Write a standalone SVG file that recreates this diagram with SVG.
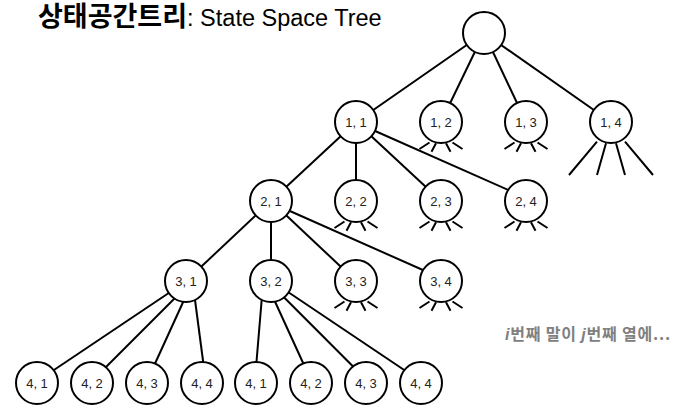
<svg xmlns="http://www.w3.org/2000/svg" xmlns:xlink="http://www.w3.org/1999/xlink" width="685" height="409" viewBox="0 0 685 409">
<style>
.edge{stroke:#000;stroke-width:2;fill:none;stroke-linecap:butt}
.node circle{fill:#fff;stroke:#000;stroke-width:2}
.lbl{font-family:"Liberation Sans",Arial,sans-serif;font-size:13px;fill:#222;text-anchor:middle}
.title{font-family:"Liberation Sans",Arial,sans-serif;font-size:23.5px;fill:#000}
.note{font-family:"Noto Sans CJK KR",sans-serif;font-size:16px;font-weight:bold;fill:#808080;letter-spacing:0.8px}
</style>
<defs>
<g id="stub">
<path class="edge" d="M-11.5,20.5L-21.5,27M-5,21.3L-9.5,29.7M5,21.3L9.5,29.7M11.5,20.5L21.5,27"/>
</g>
</defs>
<rect width="685" height="409" fill="#fff"/>
<text class="title" x="38" y="26"><tspan font-family="'Noto Sans CJK KR',sans-serif" font-weight="bold" font-size="27">상태공간트리</tspan>: State Space Tree</text>
<g id="connectors">
<line class="edge" x1="484" y1="33" x2="356" y2="122"/>
<line class="edge" x1="484" y1="33" x2="441" y2="122"/>
<line class="edge" x1="484" y1="33" x2="526" y2="122"/>
<line class="edge" x1="484" y1="33" x2="611" y2="122"/>
<line class="edge" x1="356" y1="122" x2="271" y2="201"/>
<line class="edge" x1="356" y1="122" x2="356" y2="201"/>
<line class="edge" x1="356" y1="122" x2="441" y2="201"/>
<line class="edge" x1="366.1" y1="127" x2="521.9" y2="196"/>
<line class="edge" x1="271" y1="201" x2="186" y2="281"/>
<line class="edge" x1="271" y1="201" x2="271" y2="281"/>
<line class="edge" x1="271" y1="201" x2="356" y2="281"/>
<line class="edge" x1="278.6" y1="206" x2="436.4" y2="276"/>
<line class="edge" x1="179.2" y1="286" x2="42" y2="378"/>
<line class="edge" x1="183" y1="290" x2="98" y2="375"/>
<line class="edge" x1="188.6" y1="290" x2="149.8" y2="375"/>
<line class="edge" x1="193.7" y1="290" x2="204.9" y2="375"/>
<line class="edge" x1="262.5" y1="290" x2="255.4" y2="375"/>
<line class="edge" x1="269.7" y1="290" x2="308.6" y2="375"/>
<line class="edge" x1="276.7" y1="290" x2="361.6" y2="375"/>
<line class="edge" x1="279.1" y1="286" x2="416.1" y2="378"/>
<use xlink:href="#stub" x="441" y="122"/>
<use xlink:href="#stub" x="526" y="122"/>
<use xlink:href="#stub" x="356" y="201"/>
<use xlink:href="#stub" x="441" y="201"/>
<use xlink:href="#stub" x="526" y="201"/>
<use xlink:href="#stub" x="356" y="281"/>
<use xlink:href="#stub" x="441" y="281"/>
<path class="edge" d="M597,141.7L569,175M606,143.3L597,175M616,143.3L625,175M625,141.7L653,175"/>
</g>
<g id="root" class="node"><circle cx="484" cy="33" r="21"/></g>
<g id="n1-1" class="node"><circle cx="356" cy="122" r="21"/><text class="lbl" x="356" y="126.5">1, 1</text></g>
<g id="n1-2" class="node"><circle cx="441" cy="122" r="21"/><text class="lbl" x="441" y="126.5">1, 2</text></g>
<g id="n1-3" class="node"><circle cx="526" cy="122" r="21"/><text class="lbl" x="526" y="126.5">1, 3</text></g>
<g id="n1-4" class="node"><circle cx="611" cy="122" r="21"/><text class="lbl" x="611" y="126.5">1, 4</text></g>
<g id="n2-1" class="node"><circle cx="271" cy="201" r="21"/><text class="lbl" x="271" y="205.5">2, 1</text></g>
<g id="n2-2" class="node"><circle cx="356" cy="201" r="21"/><text class="lbl" x="356" y="205.5">2, 2</text></g>
<g id="n2-3" class="node"><circle cx="441" cy="201" r="21"/><text class="lbl" x="441" y="205.5">2, 3</text></g>
<g id="n2-4" class="node"><circle cx="526" cy="201" r="21"/><text class="lbl" x="526" y="205.5">2, 4</text></g>
<g id="n3-1" class="node"><circle cx="186" cy="281" r="21"/><text class="lbl" x="186" y="285.5">3, 1</text></g>
<g id="n3-2" class="node"><circle cx="271" cy="281" r="21"/><text class="lbl" x="271" y="285.5">3, 2</text></g>
<g id="n3-3" class="node"><circle cx="356" cy="281" r="21"/><text class="lbl" x="356" y="285.5">3, 3</text></g>
<g id="n3-4" class="node"><circle cx="441" cy="281" r="21"/><text class="lbl" x="441" y="285.5">3, 4</text></g>
<g id="n4-1a" class="node"><circle cx="37" cy="383" r="21"/><text class="lbl" x="37" y="387.5">4, 1</text></g>
<g id="n4-2a" class="node"><circle cx="92" cy="383" r="21"/><text class="lbl" x="92" y="387.5">4, 2</text></g>
<g id="n4-3a" class="node"><circle cx="147" cy="383" r="21"/><text class="lbl" x="147" y="387.5">4, 3</text></g>
<g id="n4-4a" class="node"><circle cx="202" cy="383" r="21"/><text class="lbl" x="202" y="387.5">4, 4</text></g>
<g id="n4-1b" class="node"><circle cx="256" cy="383" r="21"/><text class="lbl" x="256" y="387.5">4, 1</text></g>
<g id="n4-2b" class="node"><circle cx="311" cy="383" r="21"/><text class="lbl" x="311" y="387.5">4, 2</text></g>
<g id="n4-3b" class="node"><circle cx="366" cy="383" r="21"/><text class="lbl" x="366" y="387.5">4, 3</text></g>
<g id="n4-4b" class="node"><circle cx="421" cy="383" r="21"/><text class="lbl" x="421" y="387.5">4, 4</text></g>
<text class="note" x="505" y="340"><tspan font-style="italic" font-family="'Liberation Sans',sans-serif">i</tspan>번째 말이 <tspan font-style="italic" font-family="'Liberation Sans',sans-serif">j</tspan>번째 열에...</text>
</svg>
